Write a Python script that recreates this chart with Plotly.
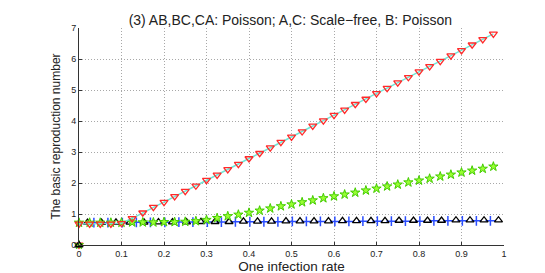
import plotly.graph_objects as go

# Data
x_rate = [0, 0.025, 0.05, 0.075, 0.1, 0.125, 0.15, 0.175, 0.2, 0.225, 0.25, 0.275,
          0.3, 0.325, 0.35, 0.375, 0.4, 0.425, 0.45, 0.475, 0.5, 0.525, 0.55, 0.575,
          0.6, 0.625, 0.65, 0.675, 0.7, 0.725, 0.75, 0.775, 0.8, 0.825, 0.85, 0.875,
          0.9, 0.925, 0.95, 0.975]
r0_red = [0.68, 0.68, 0.68, 0.68, 0.70, 0.86, 1.04, 1.22, 1.38, 1.57, 1.74, 1.91,
          2.09, 2.26, 2.44, 2.61, 2.79, 2.96, 3.14, 3.32, 3.49, 3.66, 3.84, 4.01,
          4.19, 4.36, 4.54, 4.71, 4.89, 5.06, 5.24, 5.41, 5.59, 5.76, 5.93, 6.11,
          6.28, 6.46, 6.63, 6.81]
r0_green = [0.72, 0.72, 0.72, 0.72, 0.72, 0.73, 0.73, 0.73, 0.74, 0.74, 0.75, 0.77,
            0.81, 0.87, 0.93, 0.98, 1.04, 1.11, 1.18, 1.25, 1.31, 1.38, 1.44, 1.51,
            1.57, 1.63, 1.69, 1.76, 1.82, 1.89, 1.95, 2.02, 2.08, 2.14, 2.21, 2.27,
            2.34, 2.40, 2.46, 2.53]

x_black = [0.02, 0.053, 0.087, 0.12, 0.153, 0.187, 0.22, 0.253, 0.287, 0.32,
           0.353, 0.387, 0.42, 0.453, 0.487, 0.52, 0.553, 0.587, 0.62, 0.653,
           0.687, 0.72, 0.753, 0.787, 0.82, 0.853, 0.887, 0.92, 0.953, 0.987]
r0_black = [0.72, 0.72, 0.73, 0.73, 0.73, 0.74, 0.74, 0.74, 0.75, 0.75,
            0.75, 0.76, 0.76, 0.76, 0.77, 0.77, 0.77, 0.77, 0.78, 0.78,
            0.78, 0.78, 0.79, 0.79, 0.79, 0.79, 0.80, 0.80, 0.80, 0.80]
x_blue = [0.035, 0.068, 0.102, 0.135, 0.168, 0.202, 0.235, 0.268, 0.302, 0.335,
          0.368, 0.402, 0.435, 0.468, 0.502, 0.535, 0.568, 0.602, 0.635, 0.668,
          0.702, 0.735, 0.768, 0.802, 0.835, 0.868, 0.902, 0.935, 0.968]
r0_blue = [0.72, 0.72, 0.72, 0.73, 0.73, 0.73, 0.74, 0.74, 0.74, 0.74,
           0.75, 0.75, 0.75, 0.75, 0.76, 0.76, 0.76, 0.76, 0.76, 0.77,
           0.77, 0.77, 0.77, 0.77, 0.78, 0.78, 0.78, 0.78, 0.78]

x_origin = [0]
y_origin = [0]

title_text = "(3) AB,BC,CA: Poisson; A,C: Scale\u2212free, B: Poisson"
x_label = "One infection rate"
y_label = "The basic reproduction number"
x_ticks = [0, 0.1, 0.2, 0.3, 0.4, 0.5, 0.6, 0.7, 0.8, 0.9, 1]
x_tick_text = ["0", "0.1", "0.2", "0.3", "0.4", "0.5", "0.6", "0.7", "0.8", "0.9", "1"]
y_ticks = [0, 1, 2, 3, 4, 5, 6, 7]

FONT = "Liberation Sans, Arial, Helvetica, sans-serif"
RED = "#ff2a2a"
GREEN_FILL = "#99ff33"
GREEN_LINE = "#44cc00"
GRID = dict(showgrid=True, gridcolor="#a8a8a8", griddash="1px,2px", gridwidth=1)

fig = go.Figure()

fig.add_trace(go.Scatter(
    x=x_blue, y=r0_blue, mode="markers", cliponaxis=False,
    marker=dict(symbol="cross-thin", size=7, line=dict(color="#2a4dff", width=1.5)),
    showlegend=False))
fig.add_trace(go.Scatter(
    x=x_black, y=r0_black, mode="markers", cliponaxis=False,
    marker=dict(symbol="triangle-up-open", size=7, color="black", line=dict(width=1.3)),
    showlegend=False))
fig.add_trace(go.Scatter(
    x=x_rate, y=r0_green, mode="markers", cliponaxis=False,
    marker=dict(symbol="star", size=7, color=GREEN_FILL, line=dict(color=GREEN_LINE, width=1)),
    showlegend=False))
fig.add_trace(go.Scatter(
    x=x_rate, y=r0_red, mode="lines+markers", cliponaxis=False,
    line=dict(color="#6fe6d6", width=1.5),
    marker=dict(symbol="triangle-down-open", size=7, color=RED, line=dict(width=1.3)),
    showlegend=False))

# markers at the origin
fig.add_trace(go.Scatter(
    x=x_origin, y=y_origin, mode="markers", cliponaxis=False,
    marker=dict(symbol="triangle-down-open", size=7, color=RED, line=dict(width=1.3)),
    showlegend=False))
fig.add_trace(go.Scatter(
    x=x_origin, y=y_origin, mode="markers", cliponaxis=False,
    marker=dict(symbol="star", size=6.5, color=GREEN_FILL, line=dict(color=GREEN_LINE, width=1)),
    showlegend=False))
fig.add_trace(go.Scatter(
    x=x_origin, y=y_origin, mode="markers", cliponaxis=False,
    marker=dict(symbol="triangle-up-open", size=7, color="black", line=dict(width=1.3)),
    showlegend=False))

fig.update_layout(
    width=545, height=273,
    margin=dict(l=71, r=49, t=20, b=31),
    paper_bgcolor="white", plot_bgcolor="white",
    font=dict(family=FONT, color="#222"),
    title=dict(text=title_text, x=0.518, xanchor="center", y=0.955, yanchor="middle",
               font=dict(size=14, color="#222")),
)
fig.update_xaxes(
    range=[0, 1], tickvals=x_ticks, ticktext=x_tick_text,
    tickfont=dict(size=9), ticks="inside", ticklen=3, tickcolor="#333",
    showline=True, linecolor="#333", linewidth=1,
    zeroline=False, **GRID,
    title=dict(text=x_label, font=dict(size=13.5), standoff=1),
)
fig.update_yaxes(
    range=[0, 7], tickvals=y_ticks,
    tickfont=dict(size=9), ticks="inside", ticklen=3, tickcolor="#333",
    showline=True, linecolor="#333", linewidth=1,
    zeroline=False, **GRID,
    title=dict(text=y_label, font=dict(size=12), standoff=7),
)

fig.write_html("out.html")
